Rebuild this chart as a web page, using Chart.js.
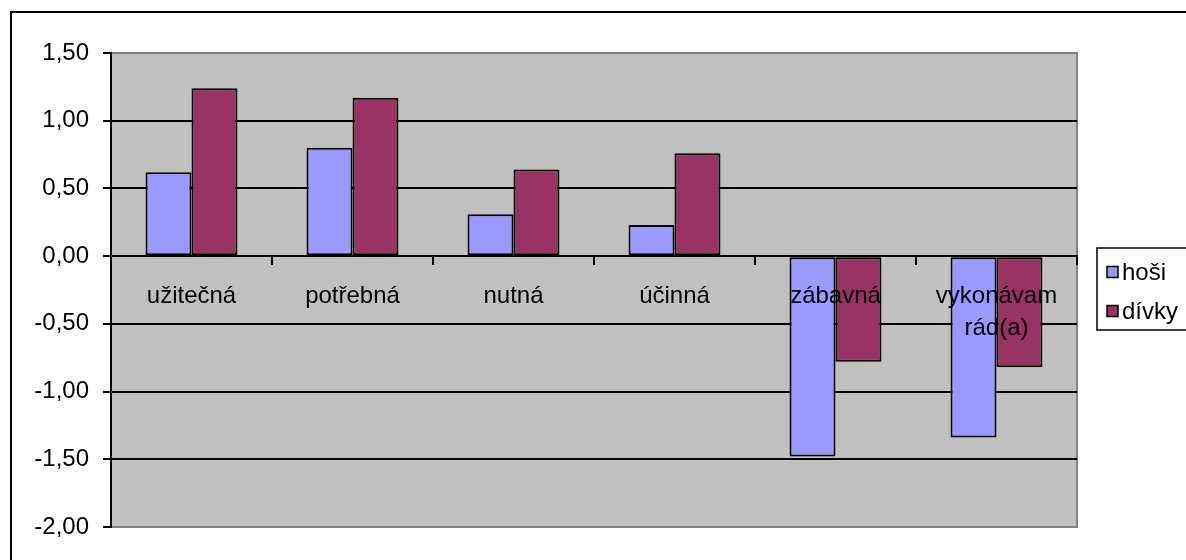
<!DOCTYPE html>
<html lang="cs">
<head>
<meta charset="utf-8">
<title>hoši / dívky</title>
<script src="https://cdn.jsdelivr.net/npm/chart.js@4.4.1/dist/chart.umd.min.js"></script>
<style>
	html, body { margin: 0; padding: 0; background: #fff; }
	#wrap { width: 1186px; height: 560px; }
</style>
</head>
<body>
<div id="wrap"><canvas id="chart"></canvas></div>
<script>
	// data
	const categories = ["užitečná", "potřebná", "nutná", "účinná", "zábavná", ["vykonávam", "rád(a)"]];
	const hosi = [0.62, 0.80, 0.31, 0.23, -1.48, -1.34];
	const divky = [1.24, 1.17, 0.64, 0.76, -0.78, -0.82];
	const seriesNames = ["hoši", "dívky"];
	const seriesColors = ["#9999FF", "#993366"];
	const yMin = -2, yMax = 1.5, yStep = 0.5;

	const FONT = "'Liberation Sans', Arial, sans-serif";
	Chart.defaults.font.family = FONT;
	Chart.defaults.font.size = 24;
	Chart.defaults.color = "#000";

	// grey plot area, outer frame, legend box
	const excelLook = {
		id: "excelLook",
		beforeDraw(chart) {
			const ctx = chart.ctx, a = chart.chartArea;
			ctx.save();
			ctx.fillStyle = "#fff";
			ctx.fillRect(0, 0, chart.width, chart.height);
			ctx.fillStyle = "#C0C0C0";
			ctx.fillRect(a.left, a.top, a.right - a.left, a.bottom - a.top);
			ctx.strokeStyle = "#808080";
			ctx.lineWidth = 2;
			ctx.beginPath();
			ctx.moveTo(a.left, a.top);
			ctx.lineTo(a.right, a.top);
			ctx.lineTo(a.right, a.bottom);
			ctx.lineTo(a.left, a.bottom);
			ctx.stroke();
			// outer chart frame (runs off the picture)
			ctx.strokeStyle = "#000";
			ctx.lineWidth = 2;
			ctx.strokeRect(11, 12, chart.width + 20, chart.height + 20);
			ctx.restore();
		},
		afterDraw(chart) {
			const ctx = chart.ctx;
			ctx.save();
			ctx.fillStyle = "#fff";
			ctx.strokeStyle = "#000";
			ctx.lineWidth = 1.5;
			ctx.fillRect(1097, 248, 120, 82);
			ctx.strokeRect(1097, 248, 120, 82);
			ctx.font = "24px " + FONT;
			ctx.textBaseline = "middle";
			chart.data.datasets.forEach((ds, i) => {
				const cy = 272 + i * 39;
				ctx.fillStyle = ds.backgroundColor;
				ctx.fillRect(1107, cy - 5.5, 11, 11);
				ctx.lineWidth = 1.5;
				ctx.strokeRect(1107, cy - 5.5, 11, 11);
				ctx.fillStyle = "#000";
				ctx.fillText(ds.label, 1122, cy + 1);
			});
			ctx.restore();
		}
	};

	new Chart(document.getElementById("chart"), {
		type: "bar",
		data: {
			labels: categories,
			datasets: [
				{ label: seriesNames[0], data: hosi, backgroundColor: seriesColors[0] },
				{ label: seriesNames[1], data: divky, backgroundColor: seriesColors[1] }
			]
		},
		options: {
			responsive: true,
			maintainAspectRatio: false,
			animation: false,
			events: [],
			layout: { padding: { left: 0, top: 53, right: 109, bottom: 33 } },
			datasets: {
				bar: {
					categoryPercentage: 0.571,
					barPercentage: 1,
					borderColor: "#000",
					borderWidth: 2,
					borderSkipped: false
				}
			},
			plugins: {
				legend: { display: false },
				tooltip: { enabled: false }
			},
			scales: {
				x: {
					position: { y: 0 },
					offset: true,
					grid: { offset: true, drawOnChartArea: false, tickLength: 8, color: "#000", lineWidth: 2, z: 1 },
					border: { color: "#000", width: 2, z: 1 },
					ticks: { z: 1, autoSkip: false, maxRotation: 0, minRotation: 0, padding: 16,
						font: { size: 24, lineHeight: 1.33 } },
					afterFit(scale) { scale.height = 0; }
				},
				y: {
					min: yMin,
					max: yMax,
					grid: {
						color: c => (c.tick && (c.tick.value === yMax || c.tick.value === yMin)) ? "#808080" : "#000",
						tickColor: "#000",
						lineWidth: 2,
						tickLength: 8
					},
					border: { color: "#000", width: 2 },
					ticks: {
						stepSize: yStep,
						padding: 14,
						callback: v => v.toFixed(2).replace(".", ",")
					},
					afterFit(scale) { scale.width = 111; }
				}
			}
		},
		plugins: [excelLook]
	});
</script>
</body>
</html>
